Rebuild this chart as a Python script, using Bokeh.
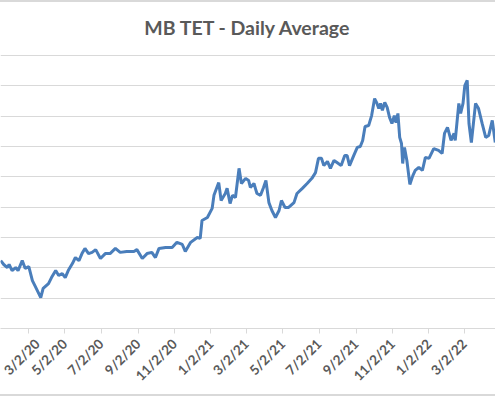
import math
import pandas as pd
from bokeh.plotting import figure
from bokeh.models import FixedTicker, DatetimeTickFormatter, Range1d
from bokeh.embed import file_html
from bokeh.resources import INLINE

# ---- data ----
dates = [
    "2020-01-16", "2020-01-21", "2020-01-27", "2020-01-30", "2020-02-04", "2020-02-10",
    "2020-02-14", "2020-02-21", "2020-02-26", "2020-03-03", "2020-03-09", "2020-03-13",
    "2020-03-23", "2020-03-27", "2020-04-05", "2020-04-10", "2020-04-17", "2020-04-22",
    "2020-04-28", "2020-05-03", "2020-05-08", "2020-05-15", "2020-05-20", "2020-05-26",
    "2020-05-31", "2020-06-05", "2020-06-11", "2020-06-17", "2020-06-23", "2020-07-01",
    "2020-07-09", "2020-07-17", "2020-07-26", "2020-08-03", "2020-08-14", "2020-08-26",
    "2020-08-31", "2020-09-09", "2020-09-17", "2020-09-25", "2020-10-01", "2020-10-07",
    "2020-10-18", "2020-10-29", "2020-11-06", "2020-11-15", "2020-11-20", "2020-11-29",
    "2020-12-10", "2020-12-15", "2020-12-18", "2020-12-27", "2021-01-04", "2021-01-07",
    "2021-01-15", "2021-01-19", "2021-01-26", "2021-01-29", "2021-02-03", "2021-02-07",
    "2021-02-12", "2021-02-18", "2021-02-22", "2021-03-01", "2021-03-06", "2021-03-09",
    "2021-03-15", "2021-03-18", "2021-03-20", "2021-03-26", "2021-03-31", "2021-04-04",
    "2021-04-09", "2021-04-14", "2021-04-20", "2021-04-26", "2021-04-30", "2021-05-06",
    "2021-05-12", "2021-05-21", "2021-05-26", "2021-06-04", "2021-06-12", "2021-06-20",
    "2021-06-26", "2021-07-01", "2021-07-06", "2021-07-10", "2021-07-16", "2021-07-21",
    "2021-07-27", "2021-08-01", "2021-08-08", "2021-08-14", "2021-08-18", "2021-08-22",
    "2021-08-29", "2021-09-04", "2021-09-09", "2021-09-13", "2021-09-17", "2021-09-23",
    "2021-09-28", "2021-10-03", "2021-10-07", "2021-10-10", "2021-10-13", "2021-10-16",
    "2021-10-20", "2021-10-24", "2021-10-28", "2021-11-01", "2021-11-05", "2021-11-08",
    "2021-11-11", "2021-11-14", "2021-11-17", "2021-11-19", "2021-11-22", "2021-11-26",
    "2021-12-01", "2021-12-06", "2021-12-10", "2021-12-16", "2021-12-22", "2021-12-27",
    "2022-01-02", "2022-01-10", "2022-01-18", "2022-01-24", "2022-01-28", "2022-02-02",
    "2022-02-08", "2022-02-13", "2022-02-15", "2022-02-21", "2022-02-24", "2022-02-28",
    "2022-03-03", "2022-03-07", "2022-03-10", "2022-03-14", "2022-03-21", "2022-03-26",
    "2022-04-01", "2022-04-07", "2022-04-12", "2022-04-18", "2022-04-23",
]
values = [
    2.24, 2.11, 2.01, 2.11, 1.91, 2.01,
    1.91, 2.24, 1.98, 2.04, 1.58, 1.42,
    1.02, 1.32, 1.48, 1.68, 1.91, 1.75,
    1.81, 1.68, 1.91, 2.14, 2.34, 2.24,
    2.47, 2.64, 2.47, 2.51, 2.60, 2.31,
    2.47, 2.47, 2.64, 2.51, 2.54, 2.54,
    2.60, 2.31, 2.47, 2.51, 2.34, 2.64,
    2.67, 2.67, 2.84, 2.77, 2.54, 2.84,
    3.00, 2.97, 3.56, 3.66, 3.96, 4.39,
    4.81, 4.22, 4.45, 4.62, 4.12, 4.39,
    4.32, 5.28, 4.78, 4.95, 4.88, 4.65,
    4.78, 4.58, 4.45, 4.39, 4.65, 4.88,
    4.15, 3.89, 3.66, 3.89, 4.22, 3.99,
    3.99, 4.15, 4.45, 4.62, 4.78, 4.95,
    5.14, 5.61, 5.61, 5.37, 5.51, 5.28,
    5.54, 5.47, 5.37, 5.70, 5.70, 5.37,
    5.70, 5.97, 6.00, 6.20, 6.66, 6.69,
    7.02, 7.58, 7.42, 7.25, 7.42, 7.19,
    7.45, 7.29, 6.96, 6.76, 7.02, 6.79,
    7.09, 6.30, 6.10, 5.44, 5.97, 5.54,
    4.75, 5.04, 5.21, 5.31, 5.21, 5.64,
    5.61, 5.93, 5.87, 5.77, 6.43, 6.63,
    6.20, 6.43, 6.20, 7.42, 7.09, 7.42,
    8.01, 8.18, 6.76, 6.13, 7.42, 7.25,
    6.76, 6.30, 6.36, 6.86, 6.13,
]
tick_dates = [
    "2020-03-02", "2020-05-02", "2020-07-02", "2020-09-02", "2020-11-02",
    "2021-01-02", "2021-03-02", "2021-05-02", "2021-07-02", "2021-09-02",
    "2021-11-02", "2022-01-02", "2022-03-02", "2022-05-02",
]
y_ticks = [0, 1, 2, 3, 4, 5, 6, 7, 8, 9]

# ---- figure ----
x = pd.to_datetime(dates)
x_start = pd.Timestamp("2020-03-02") - pd.Timedelta(days=46.4)
x_end = pd.Timestamp("2020-03-02") + pd.Timedelta(days=782.4)

p = figure(
    width=495, height=396, output_backend="svg", toolbar_location=None,
    x_axis_type="datetime",
    x_range=Range1d(x_start, x_end), y_range=Range1d(0, 9.033),
    min_border_left=0, min_border_right=0, min_border_top=0, min_border_bottom=70,
    title="MB TET - Daily Average",
)
p.styles = {"border-top": "2px solid #D9D9D9", "border-bottom": "2px solid #D9D9D9"}
p.title.align = "center"
p.title.vertical_align = "top"
p.title.text_font = "Lato"
p.title.text_font_size = "19.5px"
p.title.text_font_style = "bold"
p.title.text_color = "#595959"
p.title.standoff = 27

p.outline_line_color = None
p.background_fill_color = "white"
p.border_fill_color = "white"

p.line(x, values, line_color="#4A7EBB", line_width=3)

p.yaxis.visible = False
p.ygrid.ticker = FixedTicker(ticks=y_ticks)
p.ygrid.grid_line_color = "#D9D9D9"
p.ygrid.grid_line_width = 1
p.xgrid.visible = False

tick_ms = [pd.Timestamp(d).value // 10**6 for d in tick_dates]
p.xaxis.ticker = FixedTicker(ticks=tick_ms)
fmt = "%-m/%-d/%y"
p.xaxis.formatter = DatetimeTickFormatter(
    milliseconds=fmt, seconds=fmt, minsec=fmt, minutes=fmt, hourmin=fmt, hours=fmt,
    days=fmt, months=fmt, years=fmt,
)
p.xaxis.axis_line_color = "#D9D9D9"
p.xaxis.major_tick_line_color = "#D9D9D9"
p.xaxis.major_tick_out = 5
p.xaxis.major_tick_in = 0
p.xaxis.minor_tick_line_color = None
p.xaxis.major_label_orientation = math.pi / 4
p.xaxis.major_label_standoff = 8
p.xaxis.major_label_text_font = "Lato"
p.xaxis.major_label_text_font_size = "13.5px"
p.xaxis.major_label_text_font_style = "bold"
p.xaxis.major_label_text_color = "#595959"

open("out.html", "w").write(file_html(p, INLINE))
